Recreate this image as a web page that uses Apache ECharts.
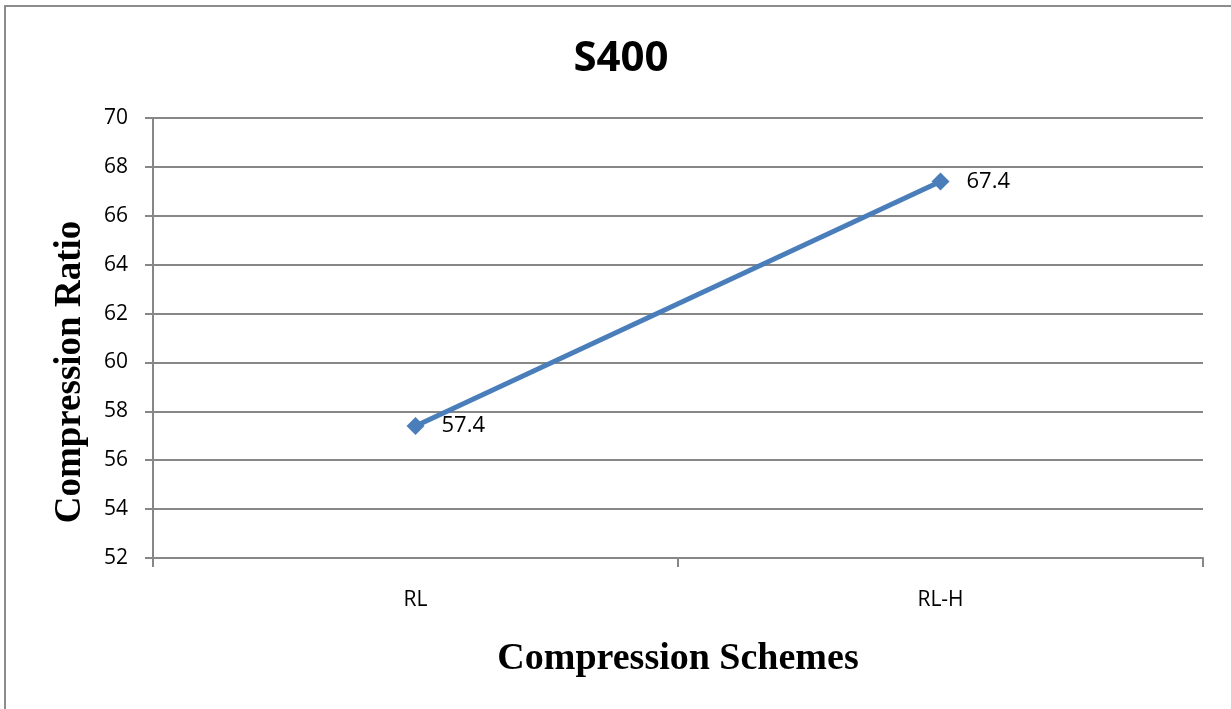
<!DOCTYPE html>
<html>
<head>
<meta charset="utf-8">
<script src="https://cdn.jsdelivr.net/npm/echarts@6/dist/echarts.min.js"></script>
<style>
  html, body { margin: 0; padding: 0; background: #fff; }
  #chart { width: 1231px; height: 709px; }
</style>
</head>
<body>
<div id="chart"></div>
<script>
var categories = ['RL', 'RL-H'];
var ratios = [57.4, 67.4];
var yTicks = { min: 52, max: 70, step: 2 };

var myChart = echarts.init(document.getElementById('chart'));

var option = {
    animation: false,
    title: {
        text: 'S400',
        left: 616,
        top: 33,
        textAlign: 'center',
        textStyle: { fontFamily: 'Open Sans', fontWeight: 'bold', fontSize: 42, color: '#000' }
    },
    grid: { left: 153, right: 28, top: 118, bottom: 151 },
    graphic: [
        {
            type: 'rect',
            shape: { x: 5, y: 6, width: 1260, height: 740 },
            style: { fill: 'none', stroke: '#8c8c8c', lineWidth: 2 },
            silent: true
        },
        {
            // y axis title
            type: 'text',
            x: 70,
            y: 372,
            rotation: Math.PI / 2,
            style: {
                text: 'Compression Ratio',
                fontFamily: 'Liberation Serif',
                fontWeight: 'bold',
                fontSize: 37,
                fill: '#000',
                align: 'center',
                verticalAlign: 'middle'
            }
        }
    ],
    xAxis: {
        type: 'category',
        data: categories,
        boundaryGap: true,
        name: 'Compression Schemes',
        nameLocation: 'middle',
        nameGap: 82,
        nameTextStyle: { fontFamily: 'Liberation Serif', fontWeight: 'bold', fontSize: 38, color: '#000' },
        axisLine: { show: true, lineStyle: { color: '#878787', width: 2 } },
        axisTick: { show: true, alignWithLabel: false, interval: 0, length: 9, lineStyle: { color: '#878787', width: 2 } },
        axisLabel: { margin: 32, fontFamily: 'Open Sans', fontSize: 21, color: '#000' },
        splitLine: { show: false }
    },
    yAxis: {
        type: 'value',
        min: yTicks.min,
        max: yTicks.max,
        interval: yTicks.step,
        axisLine: { show: true, lineStyle: { color: '#878787', width: 2 } },
        axisTick: { show: true, length: 8, lineStyle: { color: '#878787', width: 2 } },
        axisLabel: { margin: 25, fontFamily: 'Open Sans', fontSize: 21, color: '#000' },
        splitLine: { lineStyle: { color: '#878787', width: 2 } }
    },
    series: [
        {
            type: 'line',
            data: ratios,
            symbol: 'diamond',
            symbolSize: 18,
            lineStyle: { color: '#4a7ebb', width: 5 },
            itemStyle: { color: '#4a7ebb' },
            label: {
                show: true,
                position: 'right',
                distance: 17,
                fontFamily: 'Open Sans',
                fontSize: 22,
                color: '#000'
            }
        }
    ]
};

myChart.setOption(option);
</script>
</body>
</html>
